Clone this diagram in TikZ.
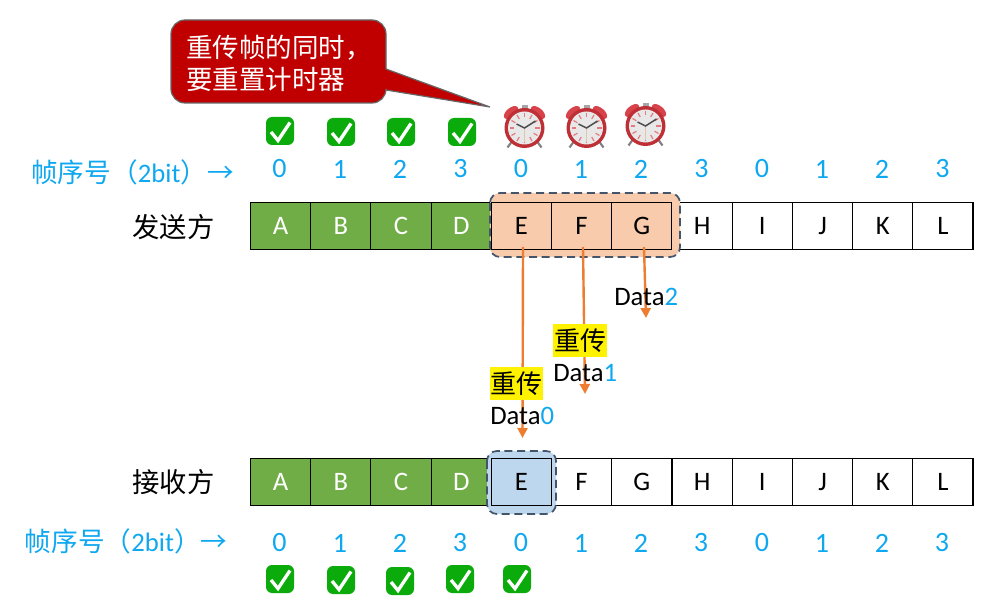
\documentclass[tikz,border=0pt]{standalone}
\usepackage{fontspec}
\usetikzlibrary{arrows.meta}
\setmainfont{Carlito}
\newfontfamily\cjk{Noto Sans CJK SC}
\definecolor{cellgreen}{HTML}{70AD47}
\definecolor{peach}{HTML}{F8CBAD}
\definecolor{paleblue}{HTML}{BDD7EE}
\definecolor{slate}{HTML}{44546A}
\definecolor{sky}{HTML}{0FA8F0}
\definecolor{orangeline}{HTML}{ED7D31}
\definecolor{calloutred}{HTML}{C00000}
\definecolor{bell}{HTML}{D8434B}
\definecolor{rim}{HTML}{BE2F36}
\definecolor{checkgreen}{HTML}{0CAB0C}
\tikzset{
  cell/.style={draw=black,line width=0.8pt,minimum width=45.15pt,minimum height=35.2pt,inner sep=0pt,font=\fontsize{20}{22}\selectfont},
  donecell/.style={cell,fill=cellgreen,text=white},
  freecell/.style={cell,fill=white},
  wincell/.style={cell},
  seq/.style={text=sky,inner sep=0pt,font=\fontsize{21}{23}\selectfont},
  legend/.style={text=sky,inner sep=0pt,anchor=west,font=\fontsize{20}{22}\selectfont},
  party/.style={inner sep=0pt,font=\cjk\fontsize{20.5}{22}\selectfont},
  window/.style={rounded corners=7.5pt,draw=slate,line width=1.3pt,dash pattern=on 6pt off 3.5pt},
  sendarrow/.style={draw=orangeline,line width=1.8pt,-{Triangle[length=7.5pt,width=7.5pt]}},
  redo/.style={fill=yellow,inner sep=0pt,minimum width=40pt,minimum height=24.7pt,font=\cjk\fontsize{19.5}{21}\selectfont},
  datalabel/.style={inner sep=0pt,anchor=west,font=\fontsize{20}{21}\selectfont},
  check/.pic={
    \fill[rounded corners=4.5pt,fill=checkgreen] (-14,-14) rectangle (14,14);
    \draw[white,line width=2.5pt,line join=miter] (-9,1) -- (-2,9.5) -- (10,-8.5);
  },
  clock/.pic={
    \draw[gray,line width=1.6pt] (-13,14) -- (-17,19.5) (13,14) -- (17,19.5);
    \fill[gray!70] (-3,-23) rectangle (3,-19);
    \fill[fill=bell,rotate around={40:(-13.5,-15.5)}] (-13.5,-15.5) ellipse (8.5 and 4.5);
    \fill[fill=bell,rotate around={-40:(13.5,-15.5)}] (13.5,-15.5) ellipse (8.5 and 4.5);
    \fill[fill=rim] (0,0) circle (20);
    \fill[fill=black!9] (0,0) circle (16.5);
    \foreach \a in {0,30,...,330}
      \draw[bell!70!white,line width=0.9pt] (\a:10.5) -- (\a:15);
    \draw[brown!45,line width=0.7pt] (0,0) -- (0,14);
    \draw[black!70,line width=1.1pt] (-8,-4) -- (0,0) -- (11,-7);
  }
}
\begin{document}
\begin{tikzpicture}[x=0.75pt,y=-0.75pt]
\useasboundingbox (0,0) rectangle (1007,602);

% --- callout
\draw[fill=calloutred,draw=black!60,line width=0.9pt] (386,69) -- (490,107) -- (386,90)
  {[rounded corners=10.5pt] -- (386,103) -- (171,103) -- (171,20) -- (386,20)} -- cycle;
\node[anchor=west,inner sep=0pt,text=white,font=\cjk\fontsize{19.9}{24}\selectfont,align=left] (note) at (186,63) {重传帧的同时，\\要重置计时器};

% --- clocks and top checks
\pic (ck1) at (524.5,128) {clock};
\pic (ck2) at (586.5,128) {clock};
\pic (ck3) at (645.5,126) {clock};
\pic (t0) at (280,131) {check};
\pic (t1) at (341,132) {check};
\pic (t2) at (401,132) {check};
\pic (t3) at (462,132) {check};

% --- top row numbers
\node[legend] (toplegend) at (31,172) {{\cjk 帧序号（}2bit{\cjk ）→}};
\foreach \n/\x/\t in {a/279.5/0,b/340/1,c/400/2,d/460.5/3,e/521/0,f/581/1,g/641/2,h/701.5/3,i/762/0,j/822/1,k/882/2,l/942.5/3}
  \node[seq] (tn\n) at (\x,169) {\t};

\node[party] (sender) at (173.5,227) {发送方};

% --- sender row
\foreach \n/\x/\t in {H/702.1/H,I/762.3/I,J/822.5/J,K/882.7/K,L/942.9/L}
  \node[freecell] (s\n) at (\x,226) {\t};
\foreach \n/\x/\t in {A/280.6/A,B/340.8/B,C/401/C,D/461.2/D}
  \node[donecell] (s\n) at (\x,226) {\t};
\draw[window,fill=peach] (490,193) rectangle (680,257);
\foreach \n/\x/\t in {E/521.4/E,F/581.6/F,G/641.8/G}
  \node[wincell] (s\n) at (\x,226) {\t};

% --- receiver row
\foreach \n/\x/\t in {F/581.6/F,G/641.8/G,H/702.1/H,I/762.3/I,J/822.5/J,K/882.7/K,L/942.9/L}
  \node[freecell] (r\n) at (\x,482) {\t};
\foreach \n/\x/\t in {A/280.6/A,B/340.8/B,C/401/C,D/461.2/D}
  \node[donecell] (r\n) at (\x,482) {\t};
\draw[window,fill=paleblue] (487,451) rectangle (556,514);
\node[wincell] (rE) at (521.4,482) {E};

\node[party] (receiver) at (173.5,482) {接收方};

% --- arrows
\coordinate (e0) at (523,247);
\coordinate (e1) at (522.5,438);
\coordinate (f0) at (583,247);
\coordinate (f1) at (585,394);
\coordinate (g0) at (644,247);
\coordinate (g1) at (646,318);
\draw[sendarrow] (e0) -- (e1);
\draw[sendarrow] (f0) -- (f1);
\draw[sendarrow] (g0) -- (g1);

\node[redo] (redo1) at (580,340.5) {重传};
\node[redo] (redo0) at (516.8,383.5) {重传};
\node[datalabel] (d2) at (614,297) {Data\textcolor{sky}{2}};
\node[datalabel] (d1) at (553,373) {Data\textcolor{sky}{1}};
\node[datalabel] (d0) at (490,416) {Data\textcolor{sky}{0}};

% --- bottom row numbers
\node[legend] (botlegend) at (24.5,541) {{\cjk 帧序号（}2bit{\cjk ）→}};
\foreach \n/\x/\t in {a/279.5/0,b/340/1,c/400/2,d/460/3,e/521/0,f/581/1,g/641/2,h/701/3,i/762/0,j/822/1,k/882/2,l/942/3}
  \node[seq] (bn\n) at (\x,543) {\t};
\pic (b0) at (280,579) {check};
\pic (b1) at (341,580) {check};
\pic (b2) at (400,581) {check};
\pic (b3) at (460,579) {check};
\pic (b4) at (517,579) {check};
\end{tikzpicture}
\end{document}
